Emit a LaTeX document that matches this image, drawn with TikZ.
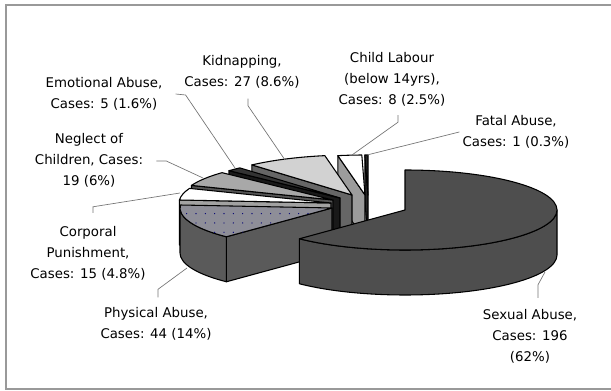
\documentclass[tikz,border=0pt]{standalone}
\usepackage{fontspec}
\setmainfont{DejaVu Sans}
\usetikzlibrary{patterns.meta}

\definecolor{sexfill}{HTML}{4E4E4E}
\definecolor{phytop}{HTML}{8E8E98}
\definecolor{physide}{HTML}{5A5A5A}
\definecolor{corface}{HTML}{A2A2A2}
\definecolor{negtop}{HTML}{A8A8A8}
\definecolor{negface}{HTML}{555555}
\definecolor{emotop}{HTML}{333333}
\definecolor{kidtop}{HTML}{D2D2D2}
\definecolor{kidface}{HTML}{666666}
\definecolor{chlface}{HTML}{9C9C9C}

\begin{document}
\begin{tikzpicture}[x=0.75pt,y=0.75pt,yscale=-1,xscale=1,
  lbl/.style={align=center,inner sep=0.75pt,font=\fontsize{10}{15.75}\selectfont},
  leader/.style={draw=black!55,line width=0.5pt},
  face/.style={draw=black,line width=0.8pt,line join=round}]
\useasboundingbox (0,0) rectangle (611,391);

%Frame
\draw[black!40,line width=1.2pt] (611,5) -- (6,5) -- (6,389) -- (611,389);

%Shape: Fatal Abuse slice
\draw[face,fill=black!85] (368,195) -- ++(268.8:152 and 40) -- ++(0,45) -- (368,240) -- cycle;
\draw[face,fill=black!85] (368,195) -- ++(268.8:152 and 40) arc[start angle=268.8,end angle=270,x radius=152,y radius=40] -- cycle;
%Shape: Child Labour slice
\draw[face,fill=chlface] (365,195) -- ++(259.7:152 and 40) -- ++(0,45) -- (365,240) -- cycle;
\draw[face,fill=white] (365,195) -- ++(259.7:152 and 40) arc[start angle=259.7,end angle=268.8,x radius=152,y radius=40] -- cycle;
%Shape: Kidnapping slice
\draw[face,fill=kidface] (352,195) -- ++(228.8:152 and 40) -- ++(0,45) -- (352,240) -- cycle;
\draw[face,fill=kidtop] (352,195) -- ++(228.8:152 and 40) arc[start angle=228.8,end angle=259.7,x radius=152,y radius=40] -- cycle;
%Shape: Emotional Abuse slice
\draw[face,fill=black!90] (340,198) -- ++(223.1:152 and 40) -- ++(0,45) -- (340,243) -- cycle;
\draw[face,fill=emotop] (340,198) -- ++(223.1:152 and 40) arc[start angle=223.1,end angle=228.8,x radius=152,y radius=40] -- cycle;
%Shape: Neglect of Children slice
\draw[face,fill=negface] (333,200) -- ++(201.4:152 and 40) -- ++(0,45) -- (333,245) -- cycle;
\draw[face,fill=negtop] (333,200) -- ++(201.4:152 and 40) arc[start angle=201.4,end angle=223.1,x radius=152,y radius=40] -- cycle;
%Shape: Corporal Punishment slice
\draw[face,fill=corface] (331,203) -- ++(184.3:152 and 40) -- ++(0,45) -- (331,248) -- cycle;
\draw[face,fill=white] (331,203) -- ++(184.3:152 and 40) arc[start angle=184.3,end angle=201.4,x radius=152,y radius=40] -- cycle;
%Shape: Physical Abuse slice
\draw[face,fill=physide] (332,208) -- ++(134:152 and 40) -- ++(0,45) -- (332,253) -- cycle;
\draw[face,fill=physide] (332,208) ++(134:152 and 40) arc[start angle=134,end angle=180,x radius=152,y radius=40] -- ++(0,45) arc[start angle=180,end angle=134,x radius=152,y radius=40] -- cycle;
\draw[face,fill=phytop,postaction={pattern={Dots[distance=7pt,radius=0.5pt]},pattern color=blue!45!black}] (332,208) -- ++(134:152 and 40) arc[start angle=134,end angle=184.3,x radius=152,y radius=40] -- cycle;
%Shape: Sexual Abuse slice
\draw[face,fill=sexfill] (405,210) ++(0:152 and 40) arc[start angle=0,end angle=134,x radius=152,y radius=40] -- ++(0,45) arc[start angle=134,end angle=0,x radius=152,y radius=40] -- cycle;
\draw[face,fill=sexfill] (405,210) -- ++(-90:152 and 40) arc[start angle=-90,end angle=134,x radius=152,y radius=40] -- cycle;

% Leader ends
\coordinate (emo-tip) at (235,168);
\coordinate (kid-tip) at (285,160);
\coordinate (chl-tip) at (352,155);
\coordinate (fat-tip) at (367,155);
\coordinate (neg-tip) at (203,178);
\coordinate (cor-tip) at (180,193);
\coordinate (phy-tip) at (187,268);
\coordinate (sex-tip) at (545,272);

% Text Node
\node[lbl] (kid) at (242,72) {Kidnapping,\\Cases: 27 (8.6\%)};
% Text Node
\node[lbl] (chl) at (392,79) {Child Labour\\(below 14yrs),\\Cases: 8 (2.5\%)};
% Text Node
\node[lbl] (emo) at (104,94) {Emotional Abuse,\\Cases: 5 (1.6\%)};
% Text Node
\node[lbl] (fat) at (516,132) {Fatal Abuse,\\Cases: 1 (0.3\%)};
% Text Node
\node[lbl] (neg) at (89,160) {Neglect of\\Children, Cases:\\19 (6\%)};
% Text Node
\node[lbl] (cor) at (88,253) {Corporal\\Punishment,\\Cases: 15 (4.8\%)};
% Text Node
\node[lbl] (phy) at (156,324) {Physical Abuse,\\Cases: 44 (14\%)};
% Text Node
\node[lbl] (sex) at (530,336) {Sexual Abuse,\\Cases: 196\\(62\%)};

% Leaders
\draw[leader] (emo.east) ++(12,0) -- ++(10,1) -- (emo-tip);
\draw[leader] (kid.south) ++(6,9) -- ++(0,7) -- (kid-tip);
\draw[leader] (chl.south) ++(6,8) -- ++(0,7) -- (chl-tip);
\draw[leader] (fat.west) ++(-2,0) -- (fat-tip);
\draw[leader] (neg.east) ++(12,1) -- ++(10,0) -- (neg-tip);
\draw[leader] (cor.north) ++(5,-12) -- ++(0,-6) -- (cor-tip);
\draw[leader] (phy.north) ++(2,-9) -- ++(0,-8) -- (phy-tip);
\draw[leader] (sex.north) ++(8,-10) -- ++(0,-13) -- (sex-tip);

\end{tikzpicture}
\end{document}
